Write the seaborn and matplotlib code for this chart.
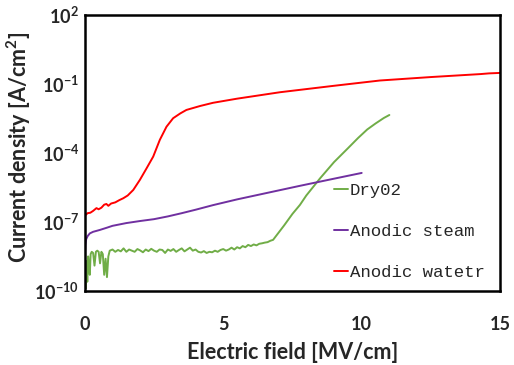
import matplotlib.pyplot as plt
import seaborn as sns
import pandas as pd
import numpy as np

sns.set_style("white")
plt.rcParams["font.family"] = ["Lato", "DejaVu Sans"]
plt.rcParams["mathtext.fontset"] = "custom"
plt.rcParams["mathtext.rm"] = "Lato"
plt.rcParams["mathtext.bf"] = "Lato:bold"

# log10 of current density
water_x = [0.0, 0.1, 0.2, 0.3, 0.42, 0.5, 0.6, 0.7, 0.78, 0.85, 0.95, 1.1, 1.25, 1.39, 1.55, 1.75, 1.99, 2.23, 2.47,
           2.71, 2.95, 3.19, 3.45, 3.67, 4.16, 4.63, 5.5, 7.05, 9.0, 10.66, 12.5, 14.3, 14.6, 15.0]
water_log = [-6.73, -6.62, -6.6, -6.52, -6.4, -6.45, -6.38, -6.25, -6.22, -6.3, -6.2, -6.15, -6.05, -5.97, -5.85,
             -5.61, -5.17, -4.67, -4.16, -3.43, -2.86, -2.49, -2.28, -2.13, -1.96, -1.82, -1.64, -1.36, -1.08,
             -0.85, -0.7, -0.57, -0.54, -0.52]

steam_x = [0.0, 0.02, 0.05, 0.1, 0.18, 0.3, 0.54, 0.8, 1.0, 1.5, 2.0, 2.5, 3.0, 3.5, 4.0, 4.63, 5.5, 6.5, 7.77,
           9.0, 10.0]
steam_log = [-8.5, -8.0, -7.75, -7.62, -7.5, -7.43, -7.35, -7.25, -7.17, -7.05, -6.96, -6.88, -6.76, -6.62, -6.47,
             -6.27, -6.02, -5.76, -5.43, -5.12, -4.87]

dry_x = [0.0, 0.03, 0.06, 0.09, 0.12, 0.15, 0.18, 0.21, 0.25, 0.3, 0.35, 0.4, 0.45, 0.5, 0.55, 0.6, 0.65, 0.7,
         0.75, 0.8, 0.85, 0.9, 1.0, 1.1, 1.2, 1.3, 1.4, 1.5, 1.6, 1.7, 1.8, 1.9, 2.0, 2.1, 2.2, 2.3, 2.4, 2.5,
         2.6, 2.7, 2.8, 2.9, 3.0, 3.1, 3.2, 3.3, 3.4, 3.5, 3.6, 3.7, 3.8, 3.9, 4.0, 4.1, 4.2, 4.3, 4.4, 4.5,
         4.6, 4.7, 4.8, 4.9, 5.0, 5.1, 5.2, 5.3, 5.4, 5.5, 5.6, 5.7, 5.8, 5.9, 6.0, 6.1, 6.2, 6.3, 6.4, 6.5,
         6.6, 6.7, 6.8, 7.2, 7.5, 7.77, 8.0, 8.5, 9.0, 9.5, 9.87, 10.2, 10.5, 10.8, 11.0]
dry_log = [-8.6, -9.9, -8.7, -9.6, -8.5, -8.9, -9.3, -8.4, -8.3, -8.35, -8.9, -8.3, -8.25, -8.3, -8.8, -8.3,
           -8.4, -9.3, -8.6, -9.4, -8.5, -8.25, -8.2, -8.3, -8.22, -8.28, -8.15, -8.3, -8.2, -8.25, -8.3, -8.18,
           -8.24, -8.32, -8.2, -8.27, -8.17, -8.25, -8.3, -8.2, -8.22, -8.35, -8.2, -8.26, -8.18, -8.3, -8.22,
           -8.15, -8.28, -8.2, -8.12, -8.25, -8.2, -8.3, -8.33, -8.27, -8.35, -8.3, -8.32, -8.25, -8.3, -8.22,
           -8.18, -8.25, -8.2, -8.12, -8.2, -8.1, -8.15, -8.05, -8.1, -8.0, -8.05, -7.98, -8.02, -7.95, -7.93,
           -7.9, -7.88, -7.82, -7.78, -7.15, -6.65, -6.26, -5.85, -5.1, -4.4, -3.8, -3.35, -2.98, -2.72, -2.48,
           -2.35]

series = ["Dry02", "Anodic steam", "Anodic watetr"]
colors = ["#70AD47", "#7030A0", "#FF0000"]

df = pd.concat([
    pd.DataFrame({"E": dry_x, "J": np.power(10.0, dry_log), "s": series[0]}),
    pd.DataFrame({"E": steam_x, "J": np.power(10.0, steam_log), "s": series[1]}),
    pd.DataFrame({"E": water_x, "J": np.power(10.0, water_log), "s": series[2]}),
])

fig = plt.figure(figsize=(5.14, 3.65), dpi=100)
ax = fig.add_axes([0.165, 0.203, 0.808, 0.756])
sns.lineplot(data=df, x="E", y="J", hue="s", palette=colors, hue_order=series,
             sort=False, estimator=None, linewidth=1.4, ax=ax)

ax.set_yscale("log")
ax.set_xlim(0, 15)
ax.set_ylim(1e-10, 1e2)
ax.set_xticks([0, 5, 10, 15])
ax.set_xticklabels(["0", "5", "10", "15"], fontsize=13, fontweight="bold")
yt = [1e-10, 1e-7, 1e-4, 1e-1, 1e2]
ax.set_yticks(yt)
ax.set_yticklabels([r"$\mathbf{10^{-10}}$", r"$\mathbf{10^{-7}}$", r"$\mathbf{10^{-4}}$",
                    r"$\mathbf{10^{-1}}$", r"$\mathbf{10^{2}}$"], fontsize=13)
ax.minorticks_off()
ax.tick_params(direction="in", length=4, width=1.2)
ax.tick_params(axis="x", pad=18)
ax.tick_params(axis="y", pad=4)
for sp in ax.spines.values():
    sp.set_linewidth(1.8)
    sp.set_color("black")

ax.set_xlabel("Electric field [MV/cm]", fontsize=15.5, fontweight="bold")
ax.set_ylabel(r"Current density [A/cm$^\mathbf{2}$]", fontsize=15.5, fontweight="bold")
ax.xaxis.set_label_coords(0.5, -0.185)
ax.xaxis.label.set_va("top")
ax.yaxis.set_label_coords(-0.125, 0.52)

ax.legend(frameon=False, loc="lower left", bbox_to_anchor=(0.576, 0.0), handlelength=0.8,
          handletextpad=0.1, labelspacing=1.5, borderaxespad=0.2,
          prop={"family": "Liberation Mono", "size": 12.5})

fig.savefig("out.png", dpi=100)
